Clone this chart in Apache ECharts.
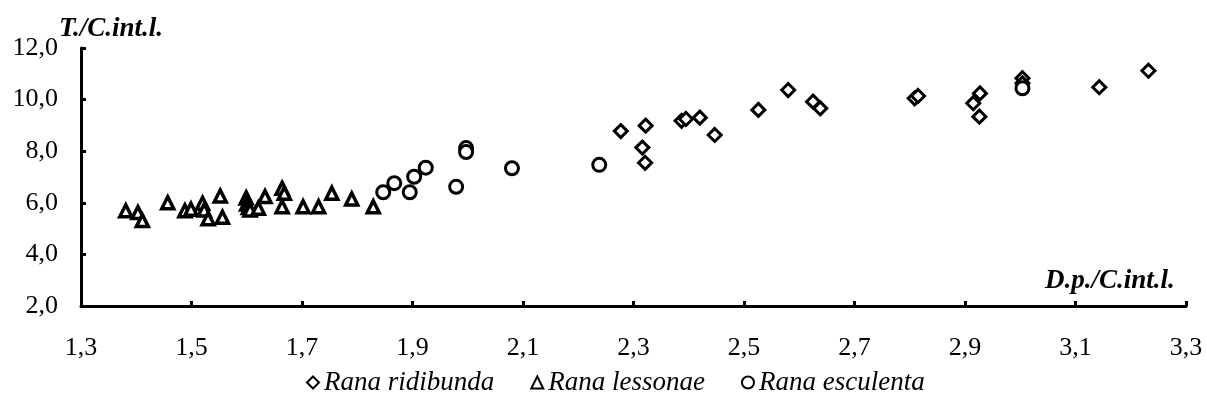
<!DOCTYPE html>
<html>
<head>
<meta charset="utf-8">
<script src="https://cdn.jsdelivr.net/npm/echarts@6/dist/echarts.min.js"></script>
<style>
  html, body { margin: 0; padding: 0; background: #fff; }
  #main { width: 1207px; height: 403px; }
</style>
</head>
<body>
<div id="main"></div>
<script>
// Rana ridibunda (diamonds)
var ridibundaX = [2.277, 2.322, 2.316, 2.321, 2.387, 2.395, 2.420, 2.447, 2.526, 2.580, 2.625, 2.638,
                  2.809, 2.815, 2.915, 2.927, 2.926, 3.004, 3.004, 3.143, 3.232];
var ridibundaY = [8.78, 8.99, 8.14, 7.55, 9.18, 9.25, 9.30, 8.63, 9.60, 10.37, 9.92, 9.66,
                  10.05, 10.14, 9.86, 10.24, 9.34, 10.83, 10.63, 10.48, 11.12];
// Rana lessonae (triangles)
var lessonaeX = [1.381, 1.403, 1.411, 1.457, 1.488, 1.499, 1.520, 1.523, 1.530, 1.552, 1.556, 1.599,
                 1.600, 1.603, 1.606, 1.621, 1.633, 1.664, 1.668, 1.664, 1.702, 1.730, 1.754, 1.790, 1.829];
var lessonaeY = [5.69, 5.62, 5.31, 6.00, 5.69, 5.75, 5.98, 5.72, 5.38, 6.26, 5.44, 6.19,
                 5.95, 5.82, 5.72, 5.79, 6.24, 6.56, 6.37, 5.85, 5.85, 5.85, 6.37, 6.15, 5.85];
// Rana esculenta (circles)
var esculentaX = [1.847, 1.867, 1.895, 1.903, 1.924, 1.979, 1.997, 1.997, 2.080, 2.238, 3.004];
var esculentaY = [6.41, 6.76, 6.41, 7.01, 7.36, 6.62, 8.12, 7.97, 7.34, 7.47, 10.44];

var seriesNames = ["Rana ridibunda", "Rana lessonae", "Rana esculenta"];
var xMin = 1.3, xMax = 3.3, xStep = 0.2;
var yMin = 2, yMax = 12, yStep = 2;

function zip(xs, ys) {
  var out = [];
  for (var i = 0; i < xs.length; i++) out.push([xs[i], ys[i]]);
  return out;
}
function comma(v) {
  return Number(v).toFixed(1).replace(".", ",");
}

var serif = "'Liberation Serif', 'Times New Roman', serif";

var myChart = echarts.init(document.getElementById("main"));
var option = {
  animation: false,
  backgroundColor: "#ffffff",
  grid: { left: 81, right: 21, top: 48, bottom: 97 },
  legend: {
    data: seriesNames,
    left: 301,
    bottom: 2,
    itemWidth: 12,
    itemHeight: 12,
    itemGap: 36,
    textStyle: { fontFamily: serif, fontStyle: "italic", fontSize: 27, color: "#000" },
  },
  xAxis: {
    type: "value",
    min: xMin,
    max: xMax,
    interval: xStep,
    splitLine: { show: false },
    axisLine: { show: true, onZero: false, lineStyle: { color: "#000", width: 3 } },
    axisTick: { show: true, inside: true, length: 5, lineStyle: { color: "#000", width: 3 } },
    axisLabel: { margin: 29, formatter: comma, fontFamily: serif, fontSize: 26, color: "#000" },
  },
  yAxis: {
    type: "value",
    min: yMin,
    max: yMax,
    interval: yStep,
    splitLine: { show: false },
    axisLine: { show: true, onZero: false, lineStyle: { color: "#000", width: 3 } },
    axisTick: { show: true, inside: true, length: 5, lineStyle: { color: "#000", width: 3 } },
    axisLabel: { margin: 23, formatter: comma, fontFamily: serif, fontSize: 26, color: "#000" },
  },
  graphic: [
    {
      type: "text",
      left: 59,
      top: 16,
      style: { text: "T./C.int.l.", font: "italic bold 27px " + serif, fill: "#000" },
    },
    {
      type: "text",
      left: 1045,
      top: 268,
      style: { text: "D.p./C.int.l.", font: "italic bold 27px " + serif, fill: "#000" },
    },
  ],
  series: [
    {
      name: seriesNames[0],
      type: "scatter",
      symbol: "diamond",
      symbolSize: 13,
      itemStyle: { color: "#ffffff", borderColor: "#000000", borderWidth: 3, opacity: 1 },
      data: zip(ridibundaX, ridibundaY),
    },
    {
      name: seriesNames[1],
      type: "scatter",
      symbol: "triangle",
      symbolSize: 12,
      itemStyle: { color: "#ffffff", borderColor: "#000000", borderWidth: 3.5, opacity: 1 },
      data: zip(lessonaeX, lessonaeY),
    },
    {
      name: seriesNames[2],
      type: "scatter",
      symbol: "circle",
      symbolSize: 13,
      itemStyle: { color: "#ffffff", borderColor: "#000000", borderWidth: 3, opacity: 1 },
      data: zip(esculentaX, esculentaY),
    },
  ],
};
myChart.setOption(option);
</script>
</body>
</html>
